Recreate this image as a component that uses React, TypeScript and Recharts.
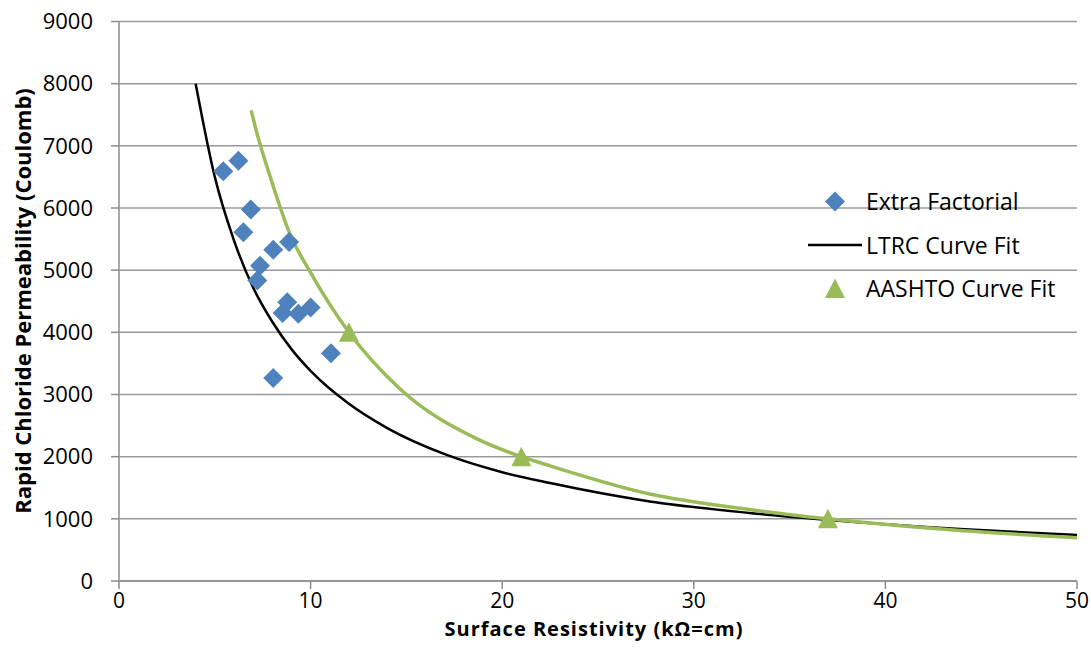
import {
  CartesianGrid,
  ComposedChart,
  Label,
  Line,
  Scatter,
  XAxis,
  YAxis,
} from "recharts";

// Extra Factorial measurements
const extraX = [5.44, 6.23, 6.88, 6.49, 8.05, 8.88, 7.36, 7.22, 8.78, 8.54, 9.36, 10.0, 11.06, 8.05];
const extraY = [6590, 6760, 5975, 5610, 5330, 5455, 5070, 4835, 4485, 4310, 4300, 4400, 3665, 3265];

// LTRC curve fit
const ltrcX = [4, 5, 6, 7, 8, 9, 10, 12, 14, 17, 20, 22.5, 27.7, 32.9, 36.9, 43.9, 50];
const ltrcY = [8000, 6500, 5480, 4720, 4170, 3730, 3380, 2850, 2460, 2040, 1750, 1575, 1280, 1095, 985, 835, 741];

// AASHTO curve fit line and its marked points
const aashtoX = [6.9, 7.15, 8, 8.9, 10, 12, 14.7, 18.8, 21, 22.5, 27.7, 32.9, 37, 43.9, 50];
const aashtoY = [7570, 7260, 6400, 5600, 4960, 4000, 3080, 2270, 2000, 1852, 1400, 1150, 1000, 812, 697];
const aashtoMarkX = [12, 21, 37];
const aashtoMarkY = [4000, 2000, 1000];

const xTicks = [0, 10, 20, 30, 40, 50];
const yTicks = [0, 1000, 2000, 3000, 4000, 5000, 6000, 7000, 8000, 9000];

const toPoints = (xs: number[], ys: number[]) => xs.map((x, i) => ({ x, y: ys[i] }));

const FONT = "'Open Sans', sans-serif";
const BLUE = "#4f81bd";
const GREEN = "#9bbb59";
const AXIS = "#8c8c8c";

function Diamond(props: any) {
  const { cx, cy } = props;
  const r = 10;
  return (
    <polygon
      points={`${cx},${cy - r} ${cx + r},${cy} ${cx},${cy + r} ${cx - r},${cy}`}
      fill={BLUE}
    />
  );
}

function Triangle(props: any) {
  const { cx, cy } = props;
  return (
    <polygon
      points={`${cx},${cy - 10} ${cx + 10},${cy + 9.5} ${cx - 10},${cy + 9.5}`}
      fill={GREEN}
    />
  );
}

const LEGEND_FS = 23;

// legend drawn on its own, over the chart, so it takes no room from the plot
function ChartLegend() {
  const textProps = { fontFamily: FONT, fontSize: LEGEND_FS, fill: "#000" };
  const base = (c: number) => c + LEGEND_FS * 0.36;
  return (
    <svg
      width={290}
      height={140}
      style={{ position: "absolute", left: 800, top: 180, display: "block" }}
    >
      <Diamond cx={35} cy={21.5} />
      <text x={66} y={base(21.5)} {...textProps}>Extra Factorial</text>
      <line x1={8} x2={62} y1={65} y2={65} stroke="#000" strokeWidth={2.5} />
      <text x={66} y={base(66)} {...textProps}>LTRC Curve Fit</text>
      <Triangle cx={35} cy={108.5} />
      <text x={66} y={base(108.5)} {...textProps}>AASHTO Curve Fit</text>
    </svg>
  );
}

export default function App() {
  const yTick = { fontFamily: FONT, fontSize: 22, fill: "#000" };
  const xTick = { fontFamily: FONT, fontSize: 21, fill: "#000" };
  return (
    <div style={{ position: "absolute", left: 0, top: 0, width: 1091, height: 654, background: "#fff" }}>
      <ComposedChart
        width={1091}
        height={654}
        margin={{ top: 21.5, right: 14, left: 0, bottom: 0 }}
      >
        <CartesianGrid vertical={false} stroke="#9a9a9a" strokeWidth={1.5} />
        <XAxis
          type="number"
          dataKey="x"
          domain={[0, 50]}
          ticks={xTicks}
          interval={0}
          height={73}
          stroke={AXIS}
          strokeWidth={1.5}
          tickSize={8}
          tickMargin={4}
          tick={xTick}
        >
          <Label
            content={() => (
              <text
                x={594}
                y={636}
                textAnchor="middle"
                fontFamily={FONT}
                fontSize={20}
                fontWeight="bold"
                letterSpacing={1}
                fill="#000"
              >
                Surface Resistivity (kΩ=cm)
              </text>
            )}
          />
        </XAxis>
        <YAxis
          type="number"
          dataKey="y"
          domain={[0, 9000]}
          ticks={yTicks}
          interval={0}
          width={119}
          stroke={AXIS}
          strokeWidth={1.5}
          tickSize={8}
          tickMargin={18}
          tick={yTick}
        >
          <Label
            content={() => (
              <text
                transform="translate(31,301) rotate(-90)"
                textAnchor="middle"
                fontFamily={FONT}
                fontSize={22}
                fontWeight="bold"
                fill="#000"
              >
                Rapid Chloride Permeability (Coulomb)
              </text>
            )}
          />
        </YAxis>
        <Line
          data={toPoints(ltrcX, ltrcY)}
          dataKey="y"
          type="monotone"
          stroke="#000"
          strokeWidth={2.5}
          dot={false}
          activeDot={false}
          isAnimationActive={false}
          name="LTRC Curve Fit"
        />
        <Line
          data={toPoints(aashtoX, aashtoY)}
          dataKey="y"
          type="monotone"
          stroke={GREEN}
          strokeWidth={3.5}
          dot={false}
          activeDot={false}
          isAnimationActive={false}
          name="AASHTO Curve Fit line"
        />
        <Scatter
          data={toPoints(extraX, extraY)}
          dataKey="y"
          shape={Diamond}
          isAnimationActive={false}
          name="Extra Factorial"
        />
        <Scatter
          data={toPoints(aashtoMarkX, aashtoMarkY)}
          dataKey="y"
          shape={Triangle}
          isAnimationActive={false}
          name="AASHTO Curve Fit"
        />
      </ComposedChart>
      <ChartLegend />
    </div>
  );
}
